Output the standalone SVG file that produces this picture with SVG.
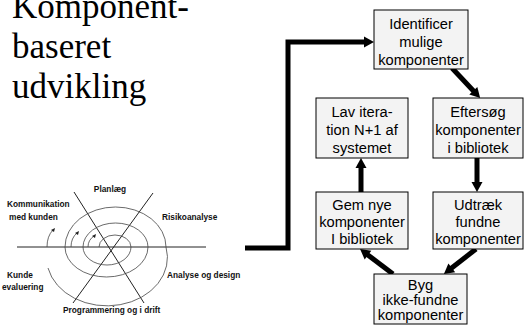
<svg xmlns="http://www.w3.org/2000/svg" width="524" height="334" viewBox="0 0 524 334">
<style>
.title{font-family:"Liberation Serif","Times New Roman",serif;font-size:35px;fill:#000}
.lbl{font-family:"Liberation Sans",Arial,sans-serif;font-size:8.3px;font-weight:bold;fill:#111}
.box{fill:#f3f3f3;stroke:#000;stroke-width:1}
.bt{font-family:"Liberation Sans",Arial,sans-serif;font-size:14.7px;fill:#000;text-anchor:middle}
.conn{fill:none;stroke:#000;stroke-width:5}
.thin{fill:none;stroke:#222;stroke-width:1}
.sp{fill:none;stroke:#444;stroke-width:0.8}
</style>
<defs>
<marker id="ah" markerUnits="userSpaceOnUse" markerWidth="12" markerHeight="12" viewBox="0 -6 11 12" refX="1" refY="0" orient="auto">
<path d="M0,-5.5 L10,0 L0,5.5 z" fill="#000"/>
</marker>
</defs>
<rect width="524" height="334" fill="#fff"/>
<g id="title">
<text class="title" x="12" y="17.5">Komponent-</text>
<text class="title" x="12" y="57.5">baseret</text>
<text class="title" x="12" y="97.5">udvikling</text>
</g>
<g id="spiral">
<line class="thin" x1="17" y1="247" x2="206" y2="247" stroke-width="1.2"/>
<line class="thin" x1="74" y1="192" x2="144" y2="303"/>
<line class="thin" x1="153" y1="193" x2="73" y2="303"/>
<path class="sp" d="M99,247 A16,12 0 0,1 131,247 A24,18 0 0,1 83,247 A32.5,24 0 0,1 148,247 A41.5,30 0 0,1 65,247 A50.5,40 0 0,1 166,247 A60,48 0 0,1 48,268"/>
<path class="sp" d="M47,247 Q47,236 53,230"/>
<path class="sp" d="M71,247 Q71,238 77,233"/>
<path class="sp" d="M88,247 Q88,240 94,236"/>
<polygon points="55,228 51,230 54,232" fill="#222"/>
<polygon points="79,231 75,233 78,235" fill="#222"/>
<polygon points="96,234 92,236 95,238" fill="#222"/>
<text class="lbl" x="110" y="192" text-anchor="middle">Planlæg</text>
<text class="lbl" x="7" y="207">Kommunikation</text>
<text class="lbl" x="9" y="220">med kunden</text>
<text class="lbl" x="162" y="220">Risikoanalyse</text>
<text class="lbl" x="7" y="278">Kunde</text>
<text class="lbl" x="2" y="290">evaluering</text>
<text class="lbl" x="167" y="278">Analyse og design</text>
<text class="lbl" x="63" y="313">Programmering og i drift</text>
</g>
<g id="connectors">
<path class="conn" d="M245,248 H288 V42 H365" marker-end="url(#ah)"/>
<path class="conn" d="M452,68 L474,91.5" marker-end="url(#ah)"/>
<path class="conn" d="M477,158 L477,183" marker-end="url(#ah)"/>
<path class="conn" d="M476,249 L451,268.5" marker-end="url(#ah)"/>
<path class="conn" d="M393,274 L367.2,254.4" marker-end="url(#ah)"/>
<path class="conn" d="M361,192 L361,167" marker-end="url(#ah)"/>
</g>
<g id="n-identificer">
<rect class="box" x="374" y="10" width="94" height="59"/>
<text class="bt" x="421" y="29">Identificer</text>
<text class="bt" x="421" y="47">mulige</text>
<text class="bt" x="421" y="65">komponenter</text>
</g>
<g id="n-lav">
<rect class="box" x="316" y="98" width="92" height="60"/>
<text class="bt" x="362" y="117">Lav itera-</text>
<text class="bt" x="362" y="135">tion N+1 af</text>
<text class="bt" x="362" y="153">systemet</text>
</g>
<g id="n-eftersog">
<rect class="box" x="433" y="98" width="90" height="60"/>
<text class="bt" x="478" y="117">Eftersøg</text>
<text class="bt" x="478" y="135">komponenter</text>
<text class="bt" x="478" y="153">i bibliotek</text>
</g>
<g id="n-gem">
<rect class="box" x="316" y="192" width="92" height="57"/>
<text class="bt" x="362" y="210">Gem nye</text>
<text class="bt" x="362" y="227">komponenter</text>
<text class="bt" x="362" y="244">I bibliotek</text>
</g>
<g id="n-udtraek">
<rect class="box" x="433" y="192" width="90" height="57"/>
<text class="bt" x="478" y="210">Udtræk</text>
<text class="bt" x="478" y="227">fundne</text>
<text class="bt" x="478" y="244">komponenter</text>
</g>
<g id="n-byg">
<rect class="box" x="374" y="274" width="93" height="50"/>
<text class="bt" x="420.5" y="290">Byg</text>
<text class="bt" x="420.5" y="305">ikke-fundne</text>
<text class="bt" x="420.5" y="320">komponenter</text>
</g>
</svg>
